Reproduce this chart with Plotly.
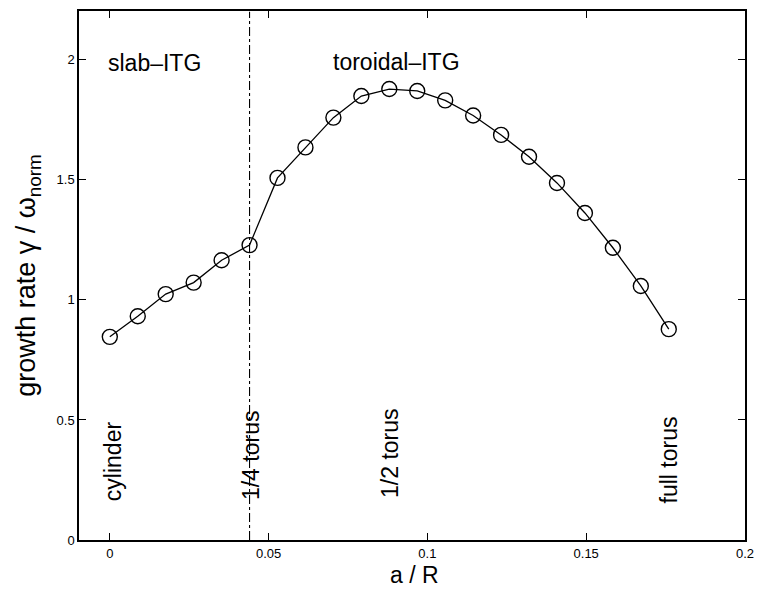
import plotly.graph_objects as go

a_over_R = [0.0, 0.0088, 0.0176, 0.0264, 0.0352, 0.044, 0.0528, 0.0616, 0.0704, 0.0792,
            0.088, 0.0968, 0.1056, 0.1144, 0.1232, 0.132, 0.1408, 0.1496, 0.1584, 0.1672, 0.176]
growth = [0.846, 0.932, 1.024, 1.072, 1.165, 1.228, 1.508, 1.635, 1.759, 1.849,
          1.878, 1.870, 1.831, 1.768, 1.687, 1.596, 1.487, 1.362, 1.217, 1.058, 0.878]

quarter_x = 0.044
region_labels = ["slab\u2013ITG", "toroidal\u2013ITG"]
region_x = [0.0141, 0.0904]
region_y = [1.985, 1.99]
geom_labels = ["cylinder", "1/4 torus", "1/2 torus", "full torus"]
geom_x = [0.0009, 0.0447, 0.0884, 0.176]
geom_y = [0.152, 0.157, 0.165, 0.145]

FONT = "Liberation Sans, Arial, Helvetica, sans-serif"

fig = go.Figure()
fig.add_trace(go.Scatter(
    x=a_over_R, y=growth, mode="lines+markers",
    line=dict(color="black", width=1.3),
    marker=dict(symbol="circle-open", size=15, color="black", line=dict(width=1.4)),
    showlegend=False,
))
fig.add_trace(go.Scatter(
    x=[quarter_x, quarter_x], y=[0, 2.2], mode="lines",
    line=dict(color="black", width=1.1, dash="dashdot"),
    showlegend=False,
))

for t, x, y in zip(region_labels, region_x, region_y):
    fig.add_annotation(x=x, y=y, text=t, showarrow=False, xanchor="center", yanchor="middle",
                       font=dict(family=FONT, size=23, color="black"))
for t, x, y in zip(geom_labels, geom_x, geom_y):
    fig.add_annotation(x=x, y=y, text=t, showarrow=False, textangle=-90,
                       xanchor="center", yanchor="bottom",
                       font=dict(family=FONT, size=23, color="black"))

# x-axis title as annotation (sits closer to tick labels than Plotly's title allows)
fig.add_annotation(xref="x", yref="paper", x=0.0959, y=-0.0655, text="a / R",
                   showarrow=False, xanchor="center", yanchor="middle",
                   font=dict(family=FONT, size=23, color="black"))

axis_common = dict(
    showline=True, linecolor="black", linewidth=1.5, mirror="ticks",
    ticks="inside", ticklen=7, tickcolor="black", tickwidth=1,
    showgrid=False, zeroline=False,
    tickfont=dict(family=FONT, size=13, color="black"),
)
fig.update_xaxes(range=[-0.0097, 0.2], tickvals=[0, 0.05, 0.1, 0.15, 0.2],
                 ticktext=["0", "0.05", "0.1", "0.15", "0.2"], ticklabelstandoff=1,
                 **axis_common)
fig.update_yaxes(range=[0, 2.203], tickvals=[0, 0.5, 1, 1.5, 2],
                 ticktext=["0", "0.5", "1", "1.5", "2"],
                 title=dict(text="growth rate \u03b3 / \u03c9<sub>norm</sub>",
                            font=dict(family=FONT, size=27, color="black"), standoff=13),
                 **axis_common)

fig.update_layout(
    width=763, height=596,
    margin=dict(l=79, r=13, t=9, b=56),
    plot_bgcolor="white", paper_bgcolor="white",
)
fig.write_html("out.html")
